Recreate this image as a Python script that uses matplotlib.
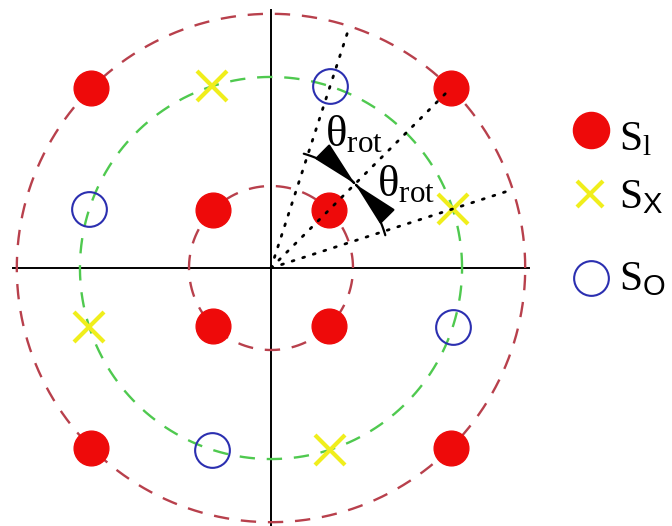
import numpy as np
import matplotlib
matplotlib.use("Agg")
import matplotlib.pyplot as plt
from matplotlib.patches import FancyArrowPatch
from matplotlib.path import Path

plt.rcParams['font.family'] = ['Liberation Serif', 'DejaVu Serif']
plt.rcParams['mathtext.fontset'] = 'custom'
plt.rcParams['mathtext.rm'] = 'Liberation Serif'
plt.rcParams['mathtext.it'] = 'Liberation Serif:italic'
plt.rcParams['mathtext.sf'] = 'Liberation Sans'

# constellation rings and symbol angles (degrees)
inner_r = 1.0
mid_r = 2.33
outer_r = 3.1
s1_angles = [45, 135, 225, 315]
sx_angles = [18, 108, 198, 288]
so_angles = [72, 162, 252, 342]
ray_angles = [72, 45, 18]
theta_rot = 27
ray_len = 3.03
axis_len = 3.15
arc_r = 1.45

red_ring = '#b8404c'
green_ring = '#4fc94f'
dot_red = '#ee0a0a'
x_yellow = '#f0ee1c'
o_blue = '#2b2fb0'

def polar(r, angles):
    a = np.radians(angles)
    return r * np.cos(a), r * np.sin(a)

fig = plt.figure(figsize=(6.72, 5.26), dpi=100)
ax = fig.add_axes([0, 0, 1, 1])
px = 82.0  # pixels per unit
ax.set_xlim(-271 / px, 401 / px)
ax.set_ylim(-258 / px, 268 / px)
ax.set_aspect('equal')
ax.axis('off')

# axes cross
ax.plot([-axis_len, axis_len], [0, 0], color='black', lw=1.4, zorder=1)
ax.plot([0, 0], [-axis_len, axis_len], color='black', lw=1.4, zorder=1)

# dashed rings
t = np.linspace(0, 2 * np.pi, 400)
for r, c in [(inner_r, red_ring), (mid_r, green_ring), (outer_r, red_ring)]:
    ax.plot(r * np.cos(t), r * np.sin(t), color=c, lw=1.7,
            linestyle=(0, (6.5, 5)), zorder=2)

# symbols
for r in (inner_r, outer_r):
    x, y = polar(r, s1_angles)
    ax.plot(x, y, 'o', ms=25, color=dot_red, mec=dot_red, zorder=3)
x, y = polar(mid_r, sx_angles)
ax.plot(x, y, 'x', ms=22, mew=3.0, color=x_yellow, zorder=3)
x, y = polar(mid_r, so_angles)
ax.plot(x, y, 'o', ms=25, mfc='none', mec=o_blue, mew=1.5, zorder=3)

# dotted rays from origin
for a in ray_angles:
    x, y = polar(ray_len, [0, a])
    ax.plot([0, x[1]], [0, y[1]], color='black', lw=2.0,
            linestyle=(0, (0.7, 3.3)), dash_capstyle='round', zorder=4)

# rotation arcs meeting on the 45 degree ray
def rot_arc(a0, a1):
    a = np.radians(np.linspace(a0, a1, 50))
    path = Path(np.column_stack([arc_r * np.cos(a), arc_r * np.sin(a)]))
    arr = FancyArrowPatch(path=path, arrowstyle='-|>,head_length=29,head_width=6.5',
                          mutation_scale=1, color='black', lw=1.6, zorder=5)
    ax.add_patch(arr)

rot_arc(45 + theta_rot + 2, 45)
rot_arc(45 - theta_rot - 2, 45)

lab = r'$\mathrm{\theta}_{\mathrm{rot}}$'
ax.text(0.66, 1.49, lab, fontsize=32, ha='left', va='baseline', zorder=6)
ax.text(1.29, 0.88, lab, fontsize=32, ha='left', va='baseline', zorder=6)

# legend
leg_x = 591 / 672
ax.plot(leg_x, 0.753, 'o', ms=26, color=dot_red, transform=ax.transAxes,
        clip_on=False)
ax.plot(leg_x - 0.002, 0.631, 'x', ms=19, mew=3.0, color=x_yellow,
        transform=ax.transAxes, clip_on=False)
ax.plot(leg_x, 0.4715, 'o', ms=25, mfc='none', mec=o_blue, mew=1.5,
        transform=ax.transAxes, clip_on=False)
leg_labels = [r'$\mathrm{S_l}$', r'$\mathrm{S}_{\mathsf{X}}$', r'$\mathrm{S}_{\mathsf{O}}$']
leg_base = [0.7148, 0.6046, 0.4487]
for s, yb in zip(leg_labels, leg_base):
    ax.text(0.921, yb, s, fontsize=30, ha='left', va='baseline',
            transform=ax.transAxes)

fig.savefig('out.png', dpi=100, facecolor='white')
